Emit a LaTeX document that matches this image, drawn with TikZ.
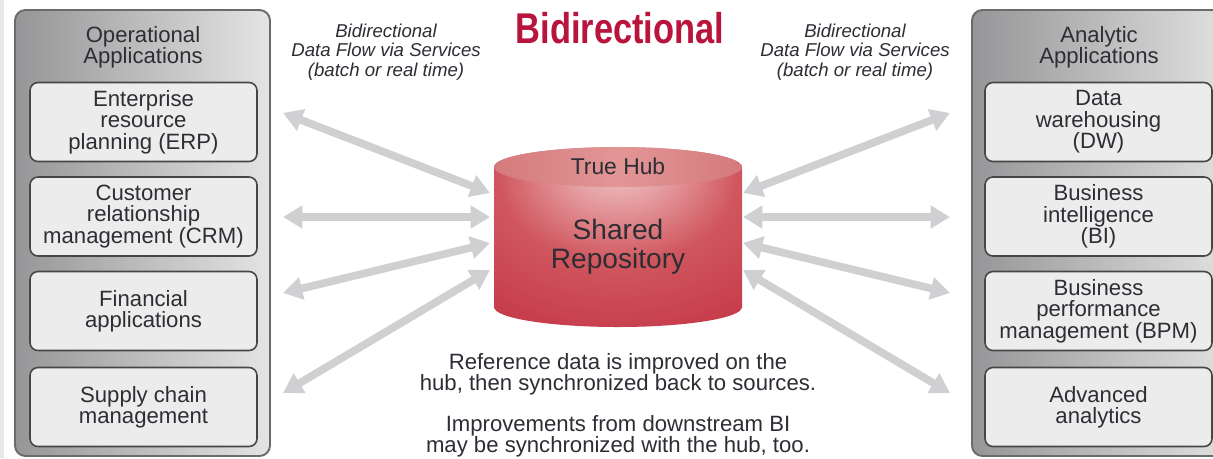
\documentclass[tikz,border=0pt]{standalone}
\usepackage{fontspec}
\setmainfont{Liberation Sans}
\usetikzlibrary{arrows.meta}
\definecolor{txt}{RGB}{45,45,52}
\definecolor{arrowgray}{RGB}{208,208,210}
\definecolor{boxfill}{RGB}{236,236,236}
\definecolor{boxdraw}{RGB}{70,70,70}
\definecolor{panelL}{RGB}{150,150,152}
\definecolor{panelR}{RGB}{228,228,228}
\definecolor{hubred}{RGB}{185,20,60}
\definecolor{cylhi}{RGB}{242,204,204}
\definecolor{cylmid}{RGB}{208,86,94}
\definecolor{cylouter}{RGB}{194,50,68}
\definecolor{cyldark}{RGB}{178,10,50}
\definecolor{cyltopL}{RGB}{212,122,124}
\definecolor{cyltopM}{RGB}{226,150,150}
\definecolor{stripgray}{RGB}{232,232,232}
\pgfdeclareradialshading{cylglow}{\pgfpoint{0bp}{22bp}}{%
  color(0bp)=(cylhi); color(7bp)=(cylhi!75!cylmid); color(24bp)=(cylmid);
  color(48bp)=(cylouter); color(72bp)=(cyldark); color(100bp)=(cyldark)}
\tikzset{
  maintext/.style={font=\fontsize{12.6}{12.2}\selectfont, text=txt, align=center},
  appbox/.style={maintext, draw=boxdraw, line width=0.9pt, fill=boxfill,
    rounded corners=4.5pt, minimum width=4.54cm, minimum height=1.58cm, inner sep=1pt},
  panel/.style={draw=boxdraw!80, line width=1.1pt, rounded corners=6pt,
    left color=panelL, right color=panelR},
  flowtext/.style={font=\fontsize{10.6}{11}\selectfont\itshape, text=txt, align=center},
  biarrow/.style={draw=arrowgray, line width=4.4pt,
    {Triangle[length=11pt,width=12.5pt]}-{Triangle[length=11pt,width=12.5pt]}},
}
\begin{document}
\begin{tikzpicture}[x=0.02cm, y=-0.02cm]
\useasboundingbox (0,0) rectangle (1213,458);
\clip (0,0) rectangle (1213,458);
\fill[white] (0,0) rectangle (1213,458);
\fill[stripgray] (0,0) rectangle (4,458);

% panels
\path[panel] (15,10) rectangle (270,456);
\path[panel] (972,10) rectangle (1240,456);
\node[maintext] (optitle) at (143,47) {Operational\\Applications};
\node[maintext] (antitle) at (1099,47) {Analytic\\Applications};

% left boxes
\node[appbox] (erp) at (143.5,122) {Enterprise\\resource\\planning (ERP)};
\node[appbox] (crm) at (143.5,216.5) {Customer\\relationship\\management (CRM)};
\node[appbox] (fin) at (143.5,311) {Financial\\applications};
\node[appbox] (scm) at (143.5,407) {Supply chain\\management};

% right boxes
\node[appbox] (dw) at (1098.5,122) {Data\\warehousing\\(DW)};
\node[appbox] (bi) at (1098.5,216.5) {Business\\intelligence\\(BI)};
\node[appbox] (bpm) at (1098.5,311) {Business\\performance\\management (BPM)};
\node[appbox] (aa) at (1098.5,407) {Advanced\\analytics};

% titles
\node[font=\fontsize{24.5}{24.5}\selectfont\bfseries, text=hubred] (bidir) at (620,28)
  {\scalebox{0.8}[1]{Bidirectional}};
\node[flowtext] (flowL) at (386,52) {Bidirectional\\Data Flow via Services\\(batch or real time)};
\node[flowtext] (flowR) at (855,52) {Bidirectional\\Data Flow via Services\\(batch or real time)};

% hub cylinder
\shade[shading=cylglow] (494,167) -- (494,307) arc[start angle=180, end angle=360, x radius=124, y radius=-20]
  -- (742,167) arc[start angle=0, end angle=180, x radius=124, y radius=-20] -- cycle;
\shade[left color=cyltopL, right color=cyltopL, middle color=cyltopM]
  (618,167) ellipse[x radius=124, y radius=20];
\node[maintext, font=\fontsize{13}{13}\selectfont] (truehub) at (618,166) {True Hub};
\node[maintext, font=\fontsize{16}{16.6}\selectfont] (repo) at (618,247) {Shared\\Repository};

% arrow end points
\coordinate (hubL1) at (490,193);
\coordinate (hubL2) at (490,217);
\coordinate (hubL3) at (490,243);
\coordinate (hubL4) at (490,270);
\coordinate (hubR1) at (743,193);
\coordinate (hubR2) at (743,217);
\coordinate (hubR3) at (743,243);
\coordinate (hubR4) at (743,270);
\coordinate (appL1) at (283,113);
\coordinate (appL2) at (283,217);
\coordinate (appL3) at (283,293);
\coordinate (appL4) at (283,393);
\coordinate (appR1) at (950,113);
\coordinate (appR2) at (950,217);
\coordinate (appR3) at (950,293);
\coordinate (appR4) at (950,393);

\draw[biarrow] (appL1) -- (hubL1);
\draw[biarrow] (appL2) -- (hubL2);
\draw[biarrow] (appL3) -- (hubL3);
\draw[biarrow] (appL4) -- (hubL4);
\draw[biarrow] (hubR1) -- (appR1);
\draw[biarrow] (hubR2) -- (appR2);
\draw[biarrow] (hubR3) -- (appR3);
\draw[biarrow] (hubR4) -- (appR4);

% notes
\node[maintext] (note1) at (618,374) {Reference data is improved on the\\hub, then synchronized back to sources.};
\node[maintext] (note2) at (618,436.5) {Improvements from downstream BI\\may be synchronized with the hub, too.};
\end{tikzpicture}
\end{document}
